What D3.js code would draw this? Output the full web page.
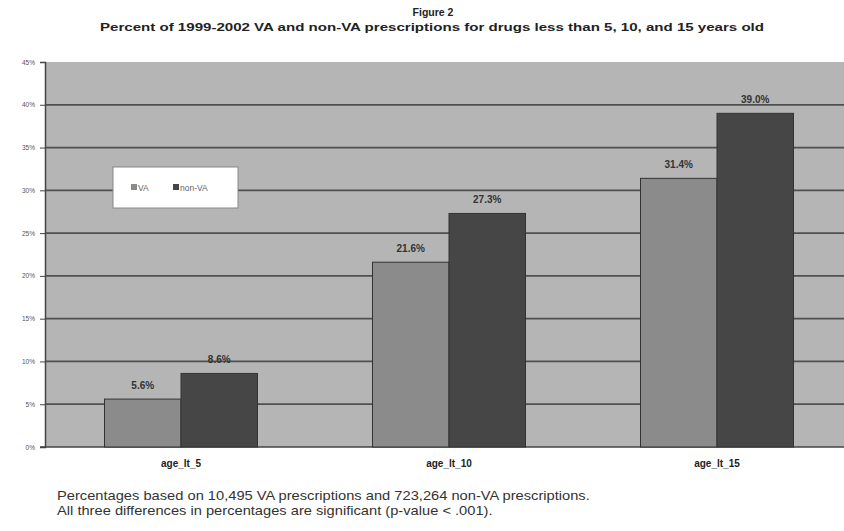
<!DOCTYPE html>
<html>
<head>
<meta charset="utf-8">
<script src="https://cdn.jsdelivr.net/npm/d3@7"></script>
<style>
  html, body { margin: 0; padding: 0; background: #fff; }
  svg { display: block; font-family: "Liberation Sans", Arial, sans-serif; }
</style>
</head>
<body>
<svg id="chart" width="844" height="531"></svg>
<script>
// Age groups along the x axis
const categories = ["age_lt_5", "age_lt_10", "age_lt_15"];
// Series names and their percentages per age group
const seriesNames = ["VA", "non-VA"];
const vaValues = [5.6, 21.6, 31.4];
const nonVaValues = [8.6, 27.3, 39.0];
// Y axis ticks (percent)
const yTicks = [0, 5, 10, 15, 20, 25, 30, 35, 40, 45];

const titleText = "Figure 2";
const subtitleText = "Percent of 1999-2002 VA and non-VA prescriptions for drugs less than 5, 10, and 15 years old";
const noteLines = [
  "Percentages based on 10,495 VA prescriptions and 723,264 non-VA prescriptions.",
  "All three differences in percentages are significant (p-value < .001)."
];

const colors = { "VA": "#8b8b8b", "non-VA": "#464646" };

const svg = d3.select("#chart");

const plot = { left: 45, top: 62, right: 851, bottom: 447 };

const y = d3.scaleLinear().domain([0, 45]).range([plot.bottom, plot.top]);
const x0 = d3.scaleBand().domain(categories).range([plot.left + 2, plot.right]).padding(0);
const x1 = d3.scaleBand().domain(seriesNames).range([57.5, x0.bandwidth() - 57.5]).padding(0);

// Titles
svg.append("text").attr("x", 433).attr("y", 16).attr("text-anchor", "middle")
  .attr("font-size", 10.5).attr("font-weight", "bold").attr("fill", "#222")
  .text(titleText);
svg.append("text").attr("x", 432).attr("y", 31).attr("text-anchor", "middle")
  .attr("font-size", 11).attr("font-weight", "bold").attr("fill", "#222")
  .attr("textLength", 664).attr("lengthAdjust", "spacingAndGlyphs")
  .text(subtitleText);

// Plot background
svg.append("rect")
  .attr("x", plot.left).attr("y", plot.top)
  .attr("width", plot.right - plot.left).attr("height", plot.bottom - plot.top)
  .attr("fill", "#b5b5b5");

// Gridlines
svg.append("g").selectAll("line")
  .data(yTicks.filter(d => d > 0 && d < 45))
  .join("line")
  .attr("x1", plot.left).attr("x2", plot.right)
  .attr("y1", d => y(d)).attr("y2", d => y(d))
  .attr("stroke", "#505050").attr("stroke-width", 1.8);

// Y axis
const yAxis = d3.axisLeft(y).tickValues(yTicks).tickSize(5).tickPadding(5)
  .tickFormat(d => d + "%");
const gy = svg.append("g").attr("transform", `translate(${plot.left},0)`).call(yAxis);
gy.select(".domain").attr("stroke", "#444").attr("stroke-width", 1.5);
gy.selectAll(".tick line").attr("stroke", "#444");
gy.selectAll(".tick text").attr("font-size", 6.5).attr("fill", "#555");

// Bottom axis line
svg.append("line").attr("x1", plot.left - 5).attr("x2", plot.right)
  .attr("y1", plot.bottom).attr("y2", plot.bottom)
  .attr("stroke", "#444").attr("stroke-width", 1.5);

// Bars
const rows = categories.map((c, i) => ({
  cat: c,
  values: [{ key: "VA", v: vaValues[i] }, { key: "non-VA", v: nonVaValues[i] }]
}));

const groups = svg.append("g").selectAll("g")
  .data(rows).join("g")
  .attr("transform", d => `translate(${x0(d.cat)},0)`);

groups.selectAll("rect")
  .data(d => d.values).join("rect")
  .attr("x", d => x1(d.key)).attr("width", x1.bandwidth())
  .attr("y", d => y(d.v)).attr("height", d => y(0) - y(d.v))
  .attr("fill", d => colors[d.key])
  .attr("stroke", "#333").attr("stroke-width", 1);

groups.selectAll("text.val")
  .data(d => d.values).join("text")
  .attr("class", "val")
  .attr("x", d => x1(d.key) + x1.bandwidth() / 2)
  .attr("y", d => y(d.v) - 10)
  .attr("text-anchor", "middle")
  .attr("font-size", 10).attr("font-weight", "bold").attr("fill", "#333")
  .text(d => d.v.toFixed(1) + "%");

// Category labels
svg.append("g").selectAll("text")
  .data(categories).join("text")
  .attr("x", d => x0(d) + x0.bandwidth() / 2)
  .attr("y", 467)
  .attr("text-anchor", "middle")
  .attr("font-size", 10).attr("font-weight", "bold").attr("fill", "#222")
  .text(d => d);

// Legend
const legend = svg.append("g").attr("transform", "translate(113,167)");
legend.append("rect").attr("width", 125).attr("height", 41)
  .attr("fill", "#fff").attr("stroke", "#888").attr("stroke-width", 1);
const legendItems = [{ key: "VA", x: 18 }, { key: "non-VA", x: 60 }];
legendItems.forEach(it => {
  legend.append("rect").attr("x", it.x).attr("y", 17).attr("width", 6).attr("height", 6)
    .attr("fill", colors[it.key]);
  legend.append("text").attr("x", it.x + 7).attr("y", 23.5)
    .attr("font-size", 8.5).attr("fill", "#666").text(it.key);
});

// Footnotes: narrow lettering, both lines condensed by the same factor
const notes = svg.append("g");
const noteText = notes.selectAll("text")
  .data(noteLines).join("text")
  .attr("y", (d, i) => i * 15)
  .attr("font-size", 12.5).attr("fill", "#333")
  .text(d => d);
const firstWidth = noteText.node().getComputedTextLength();
const squeeze = 533 / firstWidth;
notes.attr("transform", `translate(57,500) scale(${squeeze},1)`);
</script>
</body>
</html>
